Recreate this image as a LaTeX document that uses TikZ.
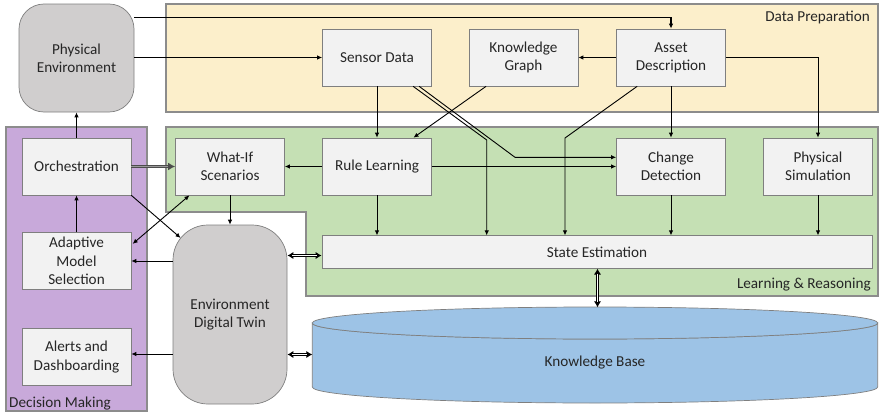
\documentclass[tikz,border=0pt]{standalone}
\usepackage{fontspec}
\setmainfont{Carlito}
\usepackage{tikz}
\usetikzlibrary{arrows.meta,calc}
\definecolor{prepfill}{HTML}{FCEFCB}
\definecolor{learnfill}{HTML}{C5E0B4}
\definecolor{decfill}{HTML}{C8A9DA}
\definecolor{envfill}{HTML}{D0CECE}
\definecolor{boxfill}{HTML}{F2F2F2}
\definecolor{kbfill}{HTML}{9DC3E6}
\definecolor{framegray}{HTML}{8C8C8C}
\definecolor{boxline}{HTML}{7F7F7F}
\definecolor{inktext}{HTML}{262626}
\tikzstyle{dedge} = [draw,line width=0.9pt,-{Latex[length=5pt,width=4.5pt]}]
\tikzstyle{biedge} = [draw,line width=0.9pt,{Latex[length=5pt,width=4.5pt]}-{Latex[length=5pt,width=4.5pt]}]
\tikzstyle{bidedge} = [draw,line width=3pt,{Latex[length=6pt,width=7.5pt]}-{Latex[length=6pt,width=7.5pt]},
    postaction={draw=white,line width=1pt,-,shorten <=5pt,shorten >=5pt}]
\tikzstyle{wideedge} = [draw=black!70,line width=3.2pt,-{Latex[length=7pt,width=8pt]},
    postaction={draw=black!40,line width=1.4pt,-,shorten >=7pt}]
\tikzset{
  block/.style = {rectangle, draw=boxline, line width=0.7pt, fill=boxfill, align=center, text=inktext,
    minimum width=109pt, minimum height=57pt, inner sep=2pt, font=\fontsize{15.2}{18.3}\selectfont},
  envblock/.style = {block, fill=envfill, rounded corners=25pt},% blocs gris arrondis
  panel/.style = {draw=framegray, line width=1.6pt},
  tag/.style = {text=inktext, inner sep=0pt, font=\fontsize{15.2}{18.3}\selectfont},% titres des zones
}
\begin{document}
\begin{tikzpicture}[x=1pt,y=1pt,yscale=-1]
    \useasboundingbox (0,0) rectangle (879,415);

    % zones
    \path[panel, fill=prepfill] (166,4) rectangle (878,112);
    \path[panel, fill=learnfill] (166,127) -- (878,127) -- (878,296) -- (306,296) -- (306,212) -- (166,212) -- cycle;
    \path[panel, fill=decfill] (6,127) rectangle (147,411);
    \node[tag, anchor=base east] (preptag) at (870,21) {Data Preparation};
    \node[tag, anchor=base east] (learntag) at (871,288) {Learning \& Reasoning};
    \node[tag, anchor=base west] (dectag) at (9,407) {Decision Making};

    % base de connaissances
    \path[draw=boxline, line width=0.7pt, fill=kbfill] (312.3,323) -- (312.3,387) arc (180:0:282.7pt and 16pt) -- (877.7,323) arc (0:180:282.7pt and 16pt) -- cycle;
    \path[draw=boxline, line width=0.7pt, fill=kbfill] (595,323) ellipse [x radius=282.7pt, y radius=16pt];
    \node[tag] (kb) at (595,363) {Knowledge Base};
    \coordinate (kbtop) at (597.5,307.3);
    \coordinate (kbleft) at (312.3,354.5);

    \node[envblock, minimum width=115pt, minimum height=108pt] (phys) at (76.5,58) {Physical\\Environment};
    \node[envblock, minimum width=114pt, minimum height=179pt, rounded corners=35pt] (twin) at (230,314.5) {Environment\\Digital Twin};

    \node[block] (orch) at (76.5,166.5) {Orchestration};
    \node[block] (ams) at (76.5,261) {Adaptive\\Model\\Selection};
    \node[block] (alerts) at (76.5,357) {Alerts and\\Dashboarding};
    \node[block] (whatif) at (230,166.5) {What-If\\Scenarios};

    \node[block] (sensor) at (377,57.5) {Sensor Data};
    \node[block] (graph) at (523.5,57.5) {Knowledge\\Graph};
    \node[block] (asset) at (671,57.5) {Asset\\Description};

    \node[block] (rules) at (377,166.5) {Rule Learning};
    \node[block] (change) at (671,166.5) {Change\\Detection};
    \node[block] (sim) at (818,166.5) {Physical\\Simulation};
    \node[block, minimum width=550pt, minimum height=32.5pt] (state) at (597,252) {State Estimation};

    % liens
    \path[dedge, line width=1.4pt] (phys.east |- 0,17.3) -| (asset.north);
    \path[dedge] (phys.east |- sensor.west) -- (sensor.west);
    \path[dedge] (asset.west) -- (graph.east);
    \path[dedge] (asset.east) -| (sim.north);
    \path[dedge] (asset) -- (change);
    \path[dedge] ($(asset.south west)+(21,0)$) -- (565,138) -- (state.north -| 565,0);
    \path[dedge] (sensor) -- (rules);
    \path[dedge] ($(graph.south west)+(17.4,0)$) -- ($(rules.north east)+(-18.4,0)$);
    \path[dedge] ($(sensor.south east)+(-18.7,0)$) -- (486.7,140) -- (state.north -| 486.7,0);
    \path[dedge] ($(sensor.south east)+(-12.7,0)$) -- (515,157.3) -- (change.west |- 0,157.3);
    \path[dedge] (rules) -- (whatif);
    \path[dedge] (rules) -- (change);
    \path[dedge] (rules) -- (rules |- state.north);
    \path[dedge] (change) -- (change |- state.north);
    \path[dedge] (sim) -- (sim |- state.north);

    \path[dedge] (orch) -- (phys);
    \path[dedge] (ams) -- (orch);
    \path[wideedge] (orch) -- (whatif);
    \path[dedge] (orch.south east) -- ($(twin.north west)+(8,13.3)$);
    \path[biedge] ($(whatif.south west)+(14.3,0)$) -- ($(ams.north east)+(1.3,11.7)$);
    \path[dedge] (whatif) -- (twin);
    \path[dedge] (twin.west |- ams.east) -- (ams.east);
    \path[dedge] (twin.west |- 0,354) -- (alerts.east |- 0,354);
    \path[bidedge] (twin.east |- 0,255.5) -- (state.west |- 0,255.5);
    \path[bidedge] (twin.east |- kbleft) -- (kbleft);
    \path[bidedge] (state.south -| kbtop) -- (kbtop);
\end{tikzpicture}
\end{document}
